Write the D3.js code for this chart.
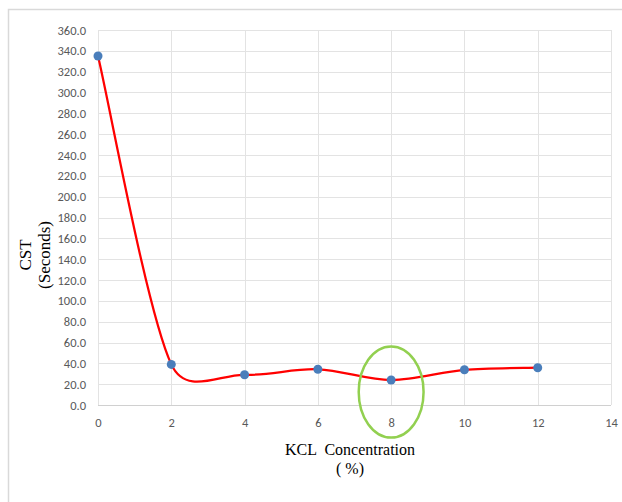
<!DOCTYPE html>
<html>
<head>
<meta charset="utf-8">
<script src="https://cdn.jsdelivr.net/npm/d3@7"></script>
<style>
html,body{margin:0;padding:0;background:#fff;}
svg{display:block;}
</style>
</head>
<body>
<svg id="chart" width="622" height="502"></svg>
<script>
const kclConcentration = [0, 2, 4, 6, 8, 10, 12];
const cstSeconds = [335, 39, 29, 34.3, 24, 33.8, 35.8];
const xTicks = [0, 2, 4, 6, 8, 10, 12, 14];
const yTicks = [0, 20, 40, 60, 80, 100, 120, 140, 160, 180, 200, 220, 240, 260, 280, 300, 320, 340, 360];
const xTitle = ["KCL  Concentration", "( %)"];
const yTitle = ["CST", "(Seconds)"];
const highlight = {x: 8, y: 12.5, rx: 0.885, ry: 43.7};

const svg = d3.select("#chart");
const x = d3.scaleLinear().domain([0, 14]).range([98, 611]);
const y = d3.scaleLinear().domain([0, 360]).range([405, 30]);

// outer chart border
svg.append("rect").attr("x", 8.5).attr("y", 9.5).attr("width", 640).attr("height", 520)
  .attr("fill", "none").attr("stroke", "#d9d9d9").attr("stroke-width", 1.5);

// gridlines
svg.append("g").selectAll("line").data(yTicks).join("line")
  .attr("x1", x(0)).attr("x2", x(14))
  .attr("y1", d => Math.round(y(d)) + 0.5).attr("y2", d => Math.round(y(d)) + 0.5)
  .attr("stroke", d => d === 0 ? "#d0d0d0" : "#e3e3e3").attr("stroke-width", 1);
svg.append("g").selectAll("line").data(xTicks).join("line")
  .attr("y1", y(0)).attr("y2", y(360))
  .attr("x1", d => Math.round(x(d)) + 0.5).attr("x2", d => Math.round(x(d)) + 0.5)
  .attr("stroke", "#e3e3e3").attr("stroke-width", 1);

// axes
const fontTick = "Carlito, 'Liberation Sans', 'DejaVu Sans', sans-serif";
const yAxis = svg.append("g").attr("transform", `translate(${x(0)},0)`)
  .call(d3.axisLeft(y).tickValues(yTicks).tickFormat(d3.format(".1f")).tickSize(0).tickPadding(12));
yAxis.select(".domain").remove();
yAxis.selectAll("text").attr("fill", "#595959").style("font-family", fontTick).style("font-size", "12.5px");

const xAxis = svg.append("g").attr("transform", `translate(0,${y(0)})`)
  .call(d3.axisBottom(x).tickValues(xTicks).tickFormat(d3.format("d")).tickSize(0).tickPadding(13));
xAxis.select(".domain").remove();
xAxis.selectAll("text").attr("fill", "#595959").style("font-family", fontTick).style("font-size", "12.5px");

// smoothed line (Excel-like Bezier smoothing with clamped control arms)
const pts = kclConcentration.map((k, i) => [k, cstSeconds[i]]);
function smoothPath(data) {
  const P = data.map(d => [x(d[0]), y(d[1])]);
  const n = P.length;
  const p = d3.path();
  p.moveTo(P[0][0], P[0][1]);
  for (let i = 0; i < n - 1; i++) {
    const p0 = P[Math.max(i - 1, 0)], p1 = P[i], p2 = P[i + 1], p3 = P[Math.min(i + 2, n - 1)];
    const seg = Math.hypot(p2[0] - p1[0], p2[1] - p1[1]);
    let t1 = [(p2[0] - p0[0]) / 6, (p2[1] - p0[1]) / 6];
    let t2 = [(p3[0] - p1[0]) / 6, (p3[1] - p1[1]) / 6];
    const lim = 0.48 * seg;
    const l1 = Math.hypot(t1[0], t1[1]), l2 = Math.hypot(t2[0], t2[1]);
    if (l1 > lim) t1 = t1.map(v => v * lim / l1);
    if (l2 > lim) t2 = t2.map(v => v * lim / l2);
    p.bezierCurveTo(p1[0] + t1[0], p1[1] + t1[1], p2[0] - t2[0], p2[1] - t2[1], p2[0], p2[1]);
  }
  return p.toString();
}
svg.append("path").attr("d", smoothPath(pts))
  .attr("fill", "none").attr("stroke", "#ff0000").attr("stroke-width", 2.25);

// points
svg.append("g").selectAll("circle").data(pts).join("circle")
  .attr("cx", d => x(d[0])).attr("cy", d => y(d[1])).attr("r", 4.5)
  .attr("fill", "#4a7ebb");

// highlight ellipse
svg.append("ellipse")
  .attr("cx", x(highlight.x)).attr("cy", y(highlight.y))
  .attr("rx", x(highlight.rx) - x(0)).attr("ry", y(0) - y(highlight.ry))
  .attr("fill", "none").attr("stroke", "#92d050").attr("stroke-width", 2.5);

// titles
const serif = "'Liberation Serif', 'Times New Roman', serif";
svg.append("text").attr("x", 350).attr("y", 455).attr("text-anchor", "middle")
  .style("font-family", serif).style("font-size", "16px").attr("fill", "#000")
  .style("white-space", "pre").text(xTitle[0]);
svg.append("text").attr("x", 350).attr("y", 474).attr("text-anchor", "middle")
  .style("font-family", serif).style("font-size", "16px").attr("fill", "#000").text(xTitle[1]);

svg.append("text").attr("transform", "translate(31,255) rotate(-90)").attr("text-anchor", "middle")
  .style("font-family", serif).style("font-size", "17px").attr("fill", "#000").text(yTitle[0]);
svg.append("text").attr("transform", "translate(50,255) rotate(-90)").attr("text-anchor", "middle")
  .style("font-family", serif).style("font-size", "17px").attr("fill", "#000").text(yTitle[1]);
</script>
</body>
</html>
